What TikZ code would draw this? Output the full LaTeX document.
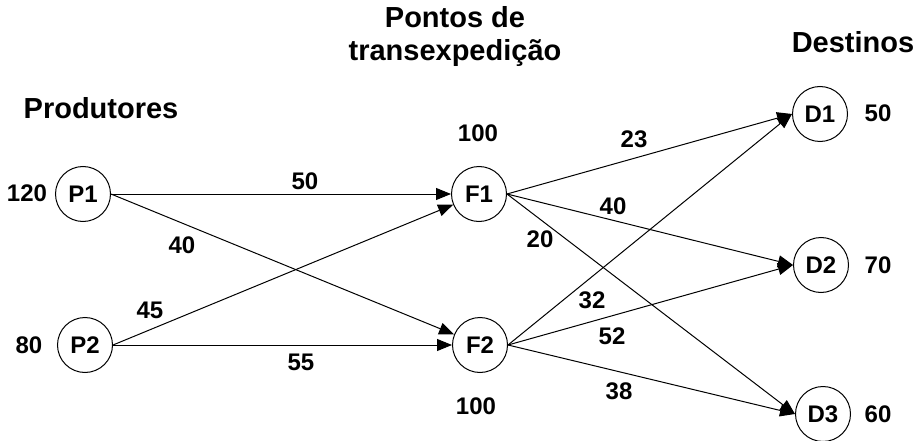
\documentclass[tikz,border=0pt]{standalone}
\usepackage{fontspec}
\setmainfont{Liberation Sans}
\usetikzlibrary{arrows.meta}
\begin{document}
\begin{tikzpicture}[x=1pt,y=-1pt,
  vert/.style={circle,draw,line width=1pt,minimum size=55pt,inner sep=0pt,font=\fontsize{24}{28}\selectfont\bfseries},
  num/.style={inner sep=0pt,font=\fontsize{24}{28}\selectfont\bfseries},
  head/.style={inner sep=0pt,anchor=base,font=\fontsize{29}{33}\selectfont\bfseries},
  arc/.style={line width=1pt,-{Triangle[length=15pt,width=12pt]}}]
\useasboundingbox (0,0) rectangle (913,441);
% headings
\node[head] (hP) at (101,119) {Produtores};
\node[head] (hT1) at (455,28) {Pontos de};
\node[head] (hT2) at (455,61) {transexpedição};
\node[head] (hD) at (853,53) {Destinos};
% vertices
\node[vert] (P1) at (83,194) {P1};
\node[vert] (P2) at (85,345) {P2};
\node[vert] (F1) at (479,194) {F1};
\node[vert] (F2) at (480,345) {F2};
\node[vert] (D1) at (820,114) {D1};
\node[vert] (D2) at (821,265) {D2};
\node[vert] (D3) at (823,414) {D3};
% supplies / demands
\node[num] (sP1) at (27,193) {120};
\node[num] (sP2) at (29,345) {80};
\node[num] (sF1) at (478,133) {100};
\node[num] (sF2) at (476,406) {100};
\node[num] (dD1) at (878,113) {50};
\node[num] (dD2) at (878,265) {70};
\node[num] (dD3) at (878,414) {60};
% edges
\draw[arc] (P1.east) -- (F1.west);
\draw[arc] (P1.east) -- (F2);
\draw[arc] (P2.east) -- (F1);
\draw[arc] (P2.east) -- (F2.west);
\draw[arc] (F1.east) -- (D1.west);
\draw[arc] (F1.east) -- (D2.west);
\draw[arc] (F1.east) -- (D3.west);
\draw[arc] (F2.east) -- (D1.west);
\draw[arc] (F2.east) -- (D2.west);
\draw[arc] (F2.east) -- (D3.west);
% edge costs
\node[num] (c11) at (305,181) {50};
\node[num] (c12) at (182,245) {40};
\node[num] (c21) at (150,310) {45};
\node[num] (c22) at (301,362) {55};
\node[num] (e11) at (634,139) {23};
\node[num] (e12) at (613,206) {40};
\node[num] (e13) at (540,239) {20};
\node[num] (e21) at (592,300) {32};
\node[num] (e22) at (612,336) {52};
\node[num] (e23) at (619,391) {38};
\end{tikzpicture}
\end{document}
